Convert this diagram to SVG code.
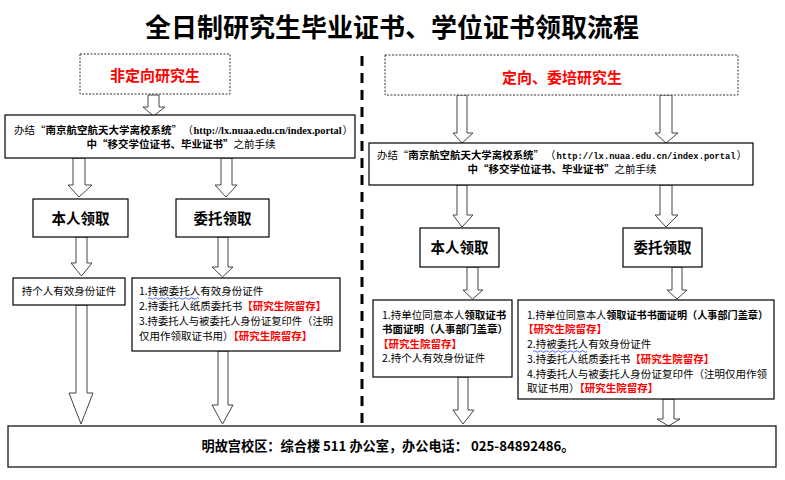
<svg xmlns="http://www.w3.org/2000/svg" width="785" height="480" viewBox="0 0 785 480">
<style>
text{font-family:"Noto Sans CJK SC","Noto Sans",sans-serif;fill:#000;}
.t{font-size:26px;font-weight:bold;}
.s{font-size:10.5px;}
.b{font-weight:bold;}
.r{fill:#ff0000;font-weight:bold;}
.h{font-size:15px;font-weight:bold;fill:#ff0000;}
.k{font-size:14.5px;font-weight:bold;}
.box{fill:#fff;stroke:#000;stroke-width:1.2;}
.dot{fill:#fff;stroke:#333;stroke-width:1;stroke-dasharray:2 1.5;}
.arr{fill:#fff;stroke:#444;stroke-width:1;}
.url{font-family:"Liberation Serif",serif;font-weight:bold;}
.mono{font-family:"Liberation Mono",monospace;font-weight:bold;font-size:8.8px;}
.wave{fill:none;stroke:#2040ff;stroke-width:0.8;}
</style>

<text class="t" x="392" y="37" text-anchor="middle">全日制研究生毕业证书、学位证书领取流程</text>

<line x1="362" y1="56" x2="362" y2="424" stroke="#000" stroke-width="3" stroke-dasharray="10 7"/>

<g id="connectors">
<path class="arr" d="M148 95H159V107H165L153.5 116L143 107H148Z"/>
<path class="arr" d="M73 158H85V185H92L79 197L68 185H73Z"/>
<path class="arr" d="M221 158H232V185H237L226 197L215 185H221Z"/>
<path class="arr" d="M76 237H87V263H92L81.5 276L71 263H76Z"/>
<path class="arr" d="M218 237H228V267H233L222.5 277L212 267H218Z"/>
<path class="arr" d="M76 305H87V393H93L81 424L69 393H76Z"/>
<path class="arr" d="M218 351H228V405H233L222.5 424L212 405H218Z"/>
<path class="arr" d="M457 95H467V133H473L462 143L453 133H457Z"/>
<path class="arr" d="M660 95H672V133H678L666 143L655 133H660Z"/>
<path class="arr" d="M457 185H467V215H473L462 227L453 215H457Z"/>
<path class="arr" d="M660 185H672V215H678L666 227L655 215H660Z"/>
<path class="arr" d="M467 267H478V290H483L472.5 299L463 290H467Z"/>
<path class="arr" d="M672 267H682V290H687L677 299L667 290H672Z"/>
<path class="arr" d="M458 377H468V410H474L463 424L453 410H458Z"/>
<path class="arr" d="M663 399H674V419H680L668.5 426L657 419H663Z"/>
</g>

<g id="n-left-head">
<rect class="dot" x="80" y="54" width="150" height="40"/>
<text class="h" x="155" y="81" text-anchor="middle">非定向研究生</text>
</g>

<g id="n-right-head">
<rect class="dot" x="385" y="55" width="353" height="40"/>
<text class="h" x="562" y="83" text-anchor="middle">定向、委培研究生</text>
</g>

<g id="n-left-info">
<rect class="box" x="5" y="115" width="350" height="43"/>
<text class="s" x="14" y="134" textLength="168" lengthAdjust="spacingAndGlyphs">办结“<tspan class="b">南京航空航天大学离校系统</tspan>”</text>
<text class="s" x="182.5" y="134">（</text>
<text class="s url" x="193.5" y="134" textLength="148" lengthAdjust="spacingAndGlyphs">http://lx.nuaa.edu.cn/index.portal</text>
<text class="s" x="342.5" y="134">）</text>
<text class="s" x="181" y="148" text-anchor="middle"><tspan class="b">中“移交学位证书、毕业证书”</tspan>之前手续</text>
</g>

<g id="n-right-info">
<rect class="box" x="369" y="143" width="384" height="42"/>
<text class="s" x="377" y="159" textLength="167" lengthAdjust="spacingAndGlyphs">办结“<tspan class="b">南京航空航天大学离校系统</tspan>”</text>
<text class="s" x="545" y="159">（</text>
<text class="mono" x="556.5" y="159" textLength="179" lengthAdjust="spacingAndGlyphs">http://lx.nuaa.edu.cn/index.portal</text>
<text class="s" x="736.5" y="159">）</text>
<text class="s" x="562" y="173" text-anchor="middle"><tspan class="b">中“移交学位证书、毕业证书”</tspan>之前手续</text>
</g>

<g id="n-left-self">
<rect class="box" x="33" y="199" width="95" height="38"/>
<text class="k" x="80.5" y="223.5" text-anchor="middle">本人领取</text>
</g>

<g id="n-left-proxy">
<rect class="box" x="176" y="199" width="93" height="38"/>
<text class="k" x="222.5" y="223.5" text-anchor="middle">委托领取</text>
</g>

<g id="n-right-self">
<rect class="box" x="420" y="228" width="79" height="39"/>
<text class="k" x="459.5" y="252.5" text-anchor="middle">本人领取</text>
</g>

<g id="n-right-proxy">
<rect class="box" x="623" y="228" width="79" height="39"/>
<text class="k" x="662.5" y="252.5" text-anchor="middle">委托领取</text>
</g>

<g id="n-left-self-req">
<rect class="box" x="13" y="278" width="112" height="27"/>
<text class="s" x="69" y="295" text-anchor="middle">持个人有效身份证件</text>
</g>

<g id="n-left-proxy-req">
<rect class="box" x="132" y="278" width="208" height="73"/>
<text class="s" x="139" y="295">1.持被委托人有效身份证件</text>
<path class="wave" d="M148 298.5q1.5 -1.5 3 0t3 0t3 0t3 0t3 0t3 0t3 0t3 0t3 0t3 0t3 0t3 0t3 0t3 0t3 0t3 0t3 0"/>
<text class="s" x="139" y="310">2.持委托人纸质委托书<tspan class="r">【研究生院留存】</tspan></text>
<text class="s" x="139" y="325" textLength="194" lengthAdjust="spacingAndGlyphs">3.持委托人与被委托人身份证复印件（注明</text>
<text class="s" x="139" y="340">仅用作领取证书用）<tspan class="r">【研究生院留存】</tspan></text>
</g>

<g id="n-right-self-req">
<rect class="box" x="373" y="300" width="139" height="77"/>
<text class="s" x="382" y="319">1.持单位同意本人<tspan class="b">领取证书</tspan></text>
<text class="s b" x="382" y="333">书面证明（人事部门盖章）</text>
<text class="s r" x="378" y="348">【研究生院留存】</text>
<text class="s" x="382" y="362">2.持个人有效身份证件</text>
</g>

<g id="n-right-proxy-req">
<rect class="box" x="518" y="300" width="256" height="99"/>
<text class="s" x="527" y="319" textLength="241" lengthAdjust="spacingAndGlyphs">1.持单位同意本人<tspan class="b">领取证书书面证明（人事部门盖章）</tspan></text>
<text class="s r" x="523" y="333">【研究生院留存】</text>
<text class="s" x="527" y="348">2.持被委托人有效身份证件</text>
<path class="wave" d="M533 351.5q1.5 -1.5 3 0t3 0t3 0t3 0t3 0t3 0t3 0t3 0t3 0t3 0t3 0t3 0t3 0t3 0t3 0t3 0t3 0t3 0"/>
<text class="s" x="527" y="363">3.持委托人纸质委托书<tspan class="r">【研究生院留存】</tspan></text>
<text class="s" x="527" y="378" textLength="240" lengthAdjust="spacingAndGlyphs">4.持委托人与被委托人身份证复印件（注明仅用作领</text>
<text class="s" x="527" y="392">取证书用）<tspan class="r">【研究生院留存】</tspan></text>
</g>

<g id="n-bottom">
<rect class="box" x="8" y="426" width="768" height="41"/>
<text x="388" y="451" text-anchor="middle" font-size="13.5" font-weight="bold" textLength="373" lengthAdjust="spacingAndGlyphs">明故宫校区：综合楼 511 办公室，办公电话： 025-84892486。</text>
</g>
</svg>
